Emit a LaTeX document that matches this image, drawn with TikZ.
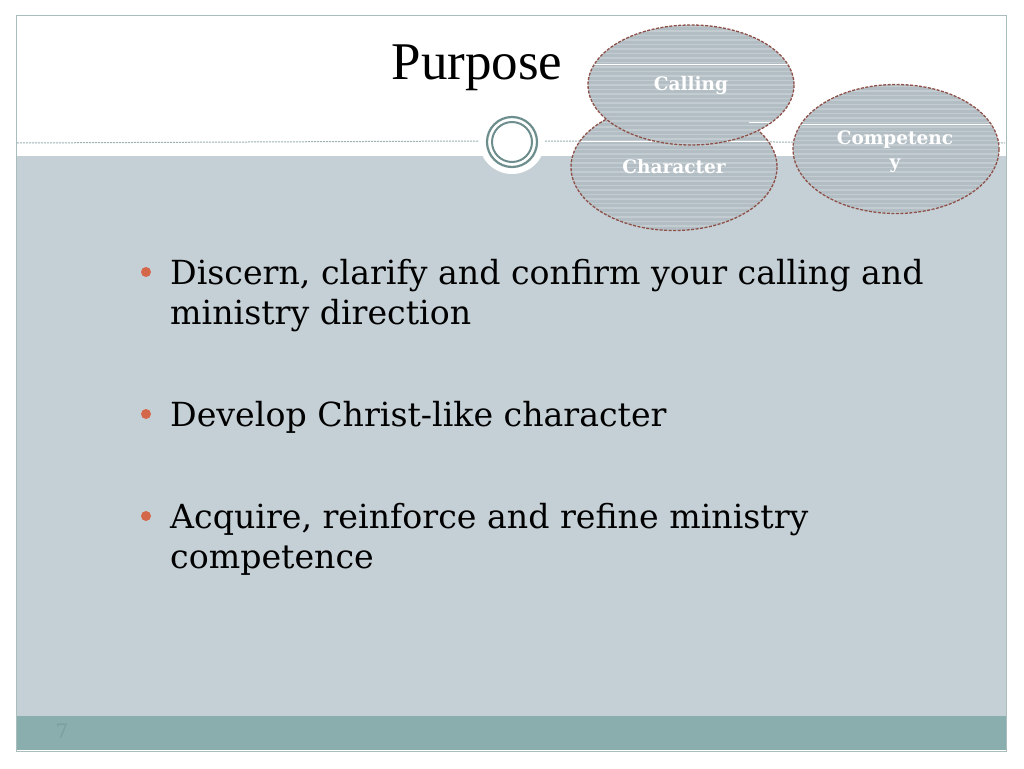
\documentclass[tikz,border=0pt]{standalone}
\usepackage{fontspec}
\setmainfont{DejaVu Serif}
\newfontfamily\titlefont{Liberation Serif}
\usetikzlibrary{shapes.geometric}
\definecolor{bodybg}{HTML}{C5D0D6}
\definecolor{bandbg}{HTML}{8AADAD}
\definecolor{framec}{HTML}{A9BDBD}
\definecolor{dashc}{HTML}{9DB1B3}
\definecolor{ringc}{HTML}{6E8E8E}
\definecolor{ellfill}{HTML}{B3BEC4}
\definecolor{elledge}{HTML}{8E5048}
\definecolor{bulletc}{HTML}{D4664A}
\definecolor{numc}{HTML}{7E9F9F}
\tikzset{
  ovalbox/.style={ellipse, fill=ellfill, draw=none},
  ovaledge/.style={elledge, dashed, dash pattern=on 3pt off 1.5pt, line width=1.3pt},
  ovaltext/.style={text=white, font=\bfseries\fontsize{18.5}{24}\selectfont, align=center},
  bodytext/.style={anchor=base west, font=\fontsize{33.2}{40}\selectfont, text=black, inner sep=0pt},
  bulletdot/.style={circle, fill=bulletc, inner sep=0pt, minimum size=10pt},
  stripe/.style={white, opacity=0.22, line width=1.3pt},
}
\begin{document}
\begin{tikzpicture}[x=1pt,y=-1pt]
\useasboundingbox (0,0) rectangle (1024,768);
\fill[white] (0,0) rectangle (1024,768);
% body areas
\fill[bodybg] (16,156) rectangle (1006,716);
\fill[bandbg] (16,716) rectangle (1006,750);
\draw[framec, line width=1pt] (16,751) -- (16,16) -- (1006,16) -- (1006,751) -- cycle;
% dashed separator
\coordinate (dl) at (17,143);
\coordinate (dr) at (1005,143);
\node[circle, fill=white, minimum size=66pt, inner sep=0pt] (disk) at (512,141) {};
\draw[dashc, dashed, dash pattern=on 2pt off 1pt, line width=1pt] (dl) -- (disk.west);
\draw[dashc, dashed, dash pattern=on 2pt off 1pt, line width=1pt] (disk.east) -- (dr);
\draw[ringc, line width=2.2pt] (512,142) circle (25);
\draw[ringc, line width=2pt] (512,142) circle (20);
% title
\node[font=\titlefont\fontsize{53}{60}\selectfont, anchor=base] (title) at (477,79) {Purpose};
% ellipses
\node[ovalbox, minimum width=206pt, minimum height=127pt] (char) at (674,167) {};
\begin{scope}
\clip (674,167) ellipse (103 and 63.5);
\foreach \yy in {100,104.5,...,235} {\draw[stripe] (560,\yy) -- (790,\yy);}
\draw[white, line width=1pt] (565,141) -- (790,141);
\end{scope}
\draw[ovaledge] (674,167) ellipse (103 and 63.5);
\node[ovaltext] (chart) at (674,167) {Character};
\node[ovalbox, minimum width=206pt, minimum height=120pt] (call) at (691,85) {};
\begin{scope}
\clip (691,85) ellipse (103 and 60);
\foreach \yy in {22,26.5,...,150} {\draw[stripe] (585,\yy) -- (800,\yy);}
\draw[white, line width=1pt] (585,64) -- (800,64);
\draw[white, line width=1pt] (749,122) -- (771,122);
\end{scope}
\draw[ovaledge] (691,85) ellipse (103 and 60);
\node[ovaltext] (callt) at (691,86) {Calling};
\node[ovalbox, minimum width=206pt, minimum height=129pt] (comp) at (896,149) {};
\begin{scope}
\clip (896,149) ellipse (103 and 64.5);
\foreach \yy in {82,86.5,...,215} {\draw[stripe] (790,\yy) -- (1000,\yy);}
\draw[white, line width=1pt] (790,124) -- (1000,124);
\end{scope}
\draw[ovaledge] (896,149) ellipse (103 and 64.5);
\node[ovaltext] (compt) at (895,152) {Competenc\\y};
% bullets
\node[bulletdot] (b1) at (146,272) {};
\node[bodytext] (t1) at (170,284) {Discern, clarify and confirm your calling and};
\node[bodytext] (t1b) at (170,324) {ministry direction};
\node[bulletdot] (b2) at (146,414) {};
\node[bodytext] (t2) at (170,426) {Develop Christ-like character};
\node[bulletdot] (b3) at (146,516) {};
\node[bodytext] (t3) at (170,528) {Acquire, reinforce and refine ministry};
\node[bodytext] (t3b) at (170,568) {competence};
% page number
\node[text=numc, font=\fontsize{20}{20}\selectfont] (pnum) at (62,731) {7};
\end{tikzpicture}
\end{document}
